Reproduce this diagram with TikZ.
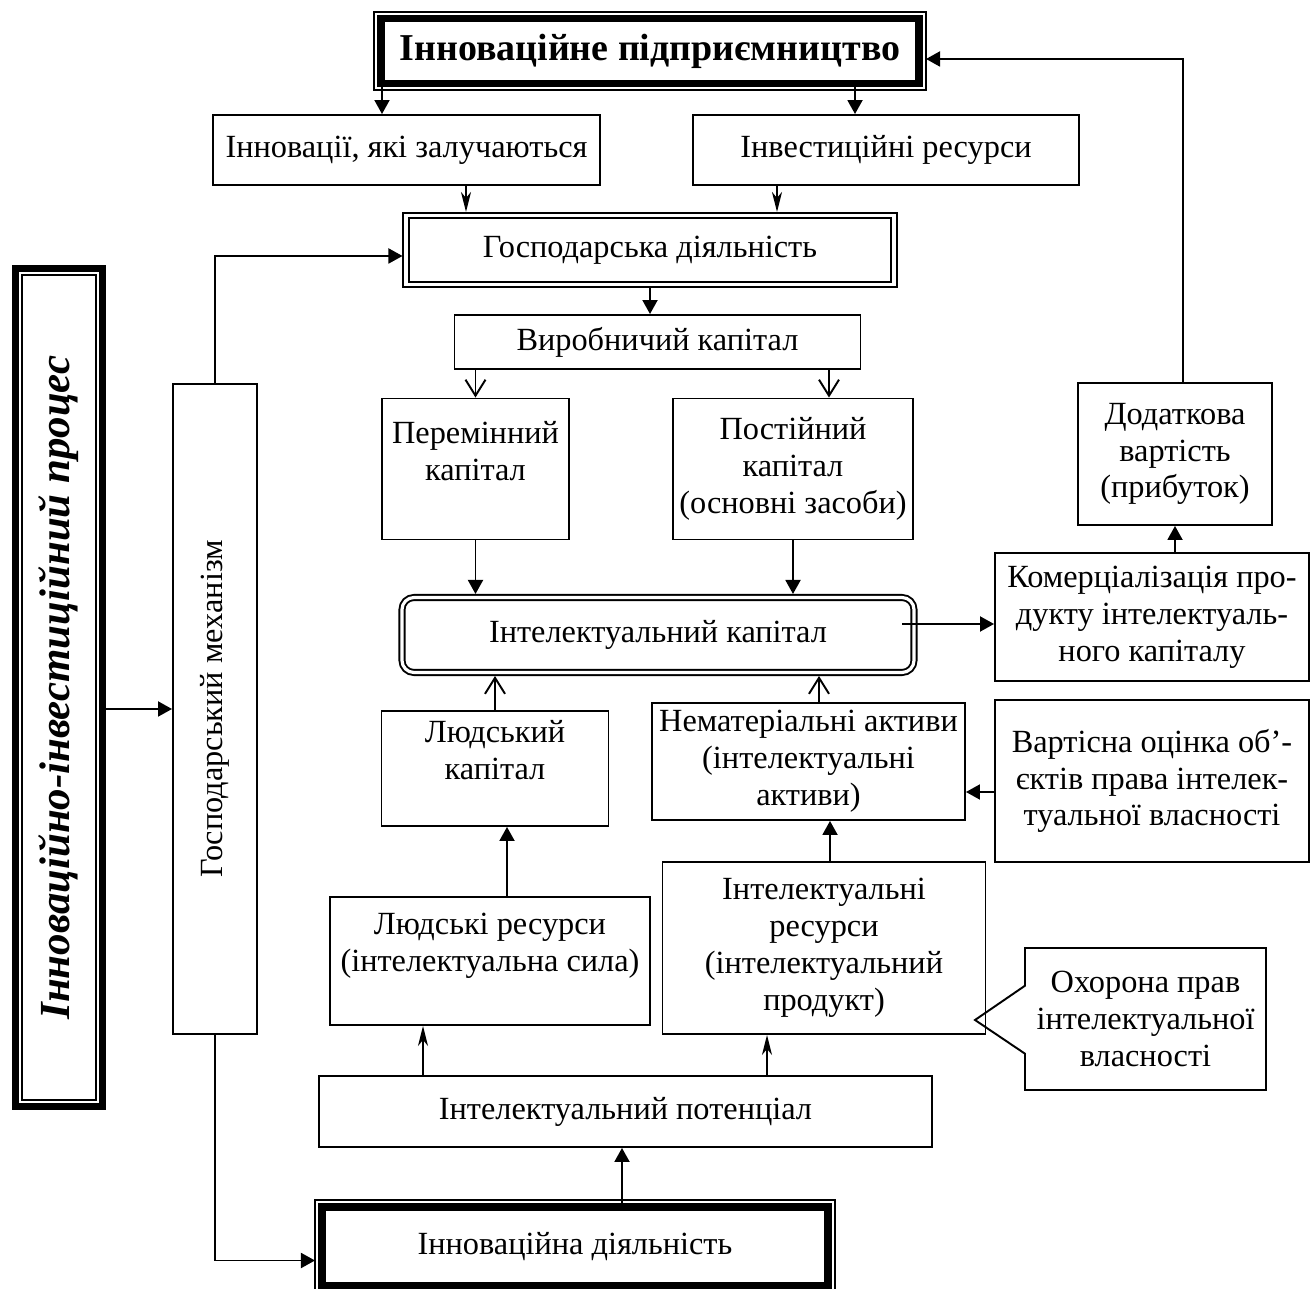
\documentclass[tikz,border=0pt]{standalone}
\usepackage{fontspec}
\setmainfont{Liberation Serif}
\usepackage{graphicx}
\usetikzlibrary{arrows.meta,shapes.callouts}
\newcommand\fnt{\fontsize{9.2pt}{10.5pt}\selectfont}
\newcommand\fntbig{\fontsize{10.8pt}{13pt}\selectfont}
\newcommand\fntside{\fontsize{12.2pt}{14pt}\selectfont}
\newcommand\frameout[3]{\draw[line width=#3] ([shift={(-#2,#2)}]#1.north west) rectangle ([shift={(#2,-#2)}]#1.south east);}
\begin{document}
\begin{tikzpicture}
  [x=1mm,y=-1mm,line width=0.55pt,
   box/.style={draw,align=center,font=\fnt,inner sep=1pt},
   dbox/.style={box,double,double distance=0.9pt,outer sep=1pt},
   bbox/.style={box,line width=2pt},
   >={Triangle[length=1.4mm,width=1.5mm]},
   vtip/.style={-{Straight Barb[length=1.6mm,width=2mm]}},
   stip/.style={-{Stealth[length=2mm,width=1mm,inset=0.6mm]}}]
  \useasboundingbox (0,0) rectangle (131.1,128.9);
  \clip (0,0) rectangle (131.1,128.9);
  \node[bbox,font=\fntbig\bfseries,minimum width=53.8mm,minimum height=6.5mm] (top) at (65,5.1) {Інноваційне підприємництво};
  \frameout{top}{0.33mm}{0.55pt}
  \node[box,minimum width=38.7mm,minimum height=7mm] (inn) at (40.65,15) {Інновації, які залучаються};
  \node[box,minimum width=38.6mm,minimum height=7mm] (inv) at (88.6,15) {Інвестиційні ресурси};
  \node[dbox,minimum width=48.8mm,minimum height=6.9mm] (gosp) at (65,25) {Господарська діяльність};
  \node[box,minimum width=40.6mm,minimum height=5.4mm] (vyr) at (65.75,34.2) {Виробничий капітал};
  \node[box,minimum width=18.75mm,minimum height=14.1mm] (perem) at (47.55,46.9) {Перемінний\\капітал\\\mbox{}};
  \node[box,minimum width=24mm,minimum height=14.1mm] (post) at (79.3,46.9) {Постійний\\капітал\\(основні засоби)};
  \node[dbox,rounded corners=1.2mm,minimum width=51.2mm,minimum height=7.5mm] (ik) at (65.8,63.5) {Інтелектуальний капітал};
  \node[box,minimum width=31.4mm,minimum height=12.8mm] (kom) at (115.2,61.7) {Комерціалізація про-\\дукту інтелектуаль-\\ного капіталу};
  \node[box,minimum width=19.4mm,minimum height=14.2mm] (dod) at (117.5,45.4) {Додаткова\\вартість\\(прибуток)};
  \node[box,minimum width=22.7mm,minimum height=11.5mm] (lk) at (49.5,76.85) {Людський\\капітал\\\mbox{}};
  \node[box,minimum width=31.3mm,minimum height=11.7mm] (nem) at (80.85,76.15) {Нематеріальні активи\\(інтелектуальні\\активи)};
  \node[box,minimum width=31.4mm,minimum height=16.2mm] (vart) at (115.2,78.1) {Вартісна оцінка об’-\\єктів права інтелек-\\туальної власності};
  \node[box,minimum width=32mm,minimum height=12.8mm] (lr) at (49,96.1) {Людські ресурси\\(інтелектуальна сила)\\\mbox{}};
  \node[box,minimum width=32.3mm,minimum height=17.2mm] (ir) at (82.4,94.8) {Інтелектуальні\\ресурси\\(інтелектуальний\\продукт)};
  \coordinate (ptr) at (97.5,102);
  \node[box,rectangle callout,callout absolute pointer={(ptr)},callout pointer width=6.8mm,minimum width=24.1mm,minimum height=14.2mm] (ohr) at (114.55,101.9) {Охорона прав\\інтелектуальної\\власності};
  \node[box,minimum width=61.3mm,minimum height=7.1mm] (pot) at (62.55,111.15) {Інтелектуальний потенціал};
  \node[bbox,minimum width=50.6mm,minimum height=7.9mm] (id) at (57.5,124.65) {Інноваційна діяльність};
  \frameout{id}{0.35mm}{0.55pt}
  \node[box,minimum width=8.4mm,minimum height=65mm] (mech) at (21.5,70.9) {\rotatebox{90}{Господарський механізм}};
  \node[box,font=\fntside\bfseries\itshape,minimum width=7.4mm,minimum height=82.5mm] (proc) at (5.9,68.75) {\rotatebox{90}{Інноваційно-інвестиційний процес}};
  \frameout{proc}{0.55mm}{2pt}
  \draw[->] (38.2,0 |- top.south) -- (38.2,0 |- inn.north);
  \draw[->] (85.5,0 |- top.south) -- (85.5,0 |- inv.north);
  \draw[stip] (46.6,0 |- inn.south) -- (46.6,0 |- gosp.north);
  \draw[stip] (77.7,0 |- inv.south) -- (77.7,0 |- gosp.north);
  \draw[->] (gosp.south) -- (gosp.south |- vyr.north);
  \draw[vtip] (perem.north |- vyr.south) -- (perem.north);
  \draw[vtip] (82.9,0 |- vyr.south) -- (82.9,0 |- post.north);
  \draw[->] (perem.south) -- (perem.south |- ik.north);
  \draw[->] (post.south) -- (post.south |- ik.north);
  \draw[vtip] (lk.north) -- (lk.north |- ik.south);
  \draw[vtip] (81.9,0 |- nem.north) -- (81.9,0 |- ik.south);
  \coordinate (ikout) at (90.2,62.4);
  \draw[->] (ikout) -- (ikout -| kom.west);
  \draw[->] (dod.south |- kom.north) -- (dod.south);
  \draw[->] ([xshift=0.8mm]dod.north) |- ([xshift=0.35mm,yshift=-0.8mm]top.east);
  \draw[->] (vart.west |- 0,79.2) -- (nem.east |- 0,79.2);
  \draw[->] (50.7,0 |- lr.north) -- (50.7,0 |- lk.south);
  \draw[->] (83,0 |- ir.north) -- (83,0 |- nem.south);
  \draw[stip] (42.3,0 |- pot.north) -- (42.3,0 |- lr.south);
  \draw[stip] (76.7,0 |- pot.north) -- (76.7,0 |- ir.south);
  \draw[->] (62.2,0 |- id.north) -- (62.2,0 |- pot.south);
  \draw[->] ([xshift=0.75mm]proc.east |- mech.west) -- (mech.west);
  \draw[->] (mech.north) |- ([yshift=-0.6mm]gosp.west);
  \draw[->] (mech.south) |- ([xshift=-0.35mm,yshift=-1.4mm]id.west);
\end{tikzpicture}
\end{document}
